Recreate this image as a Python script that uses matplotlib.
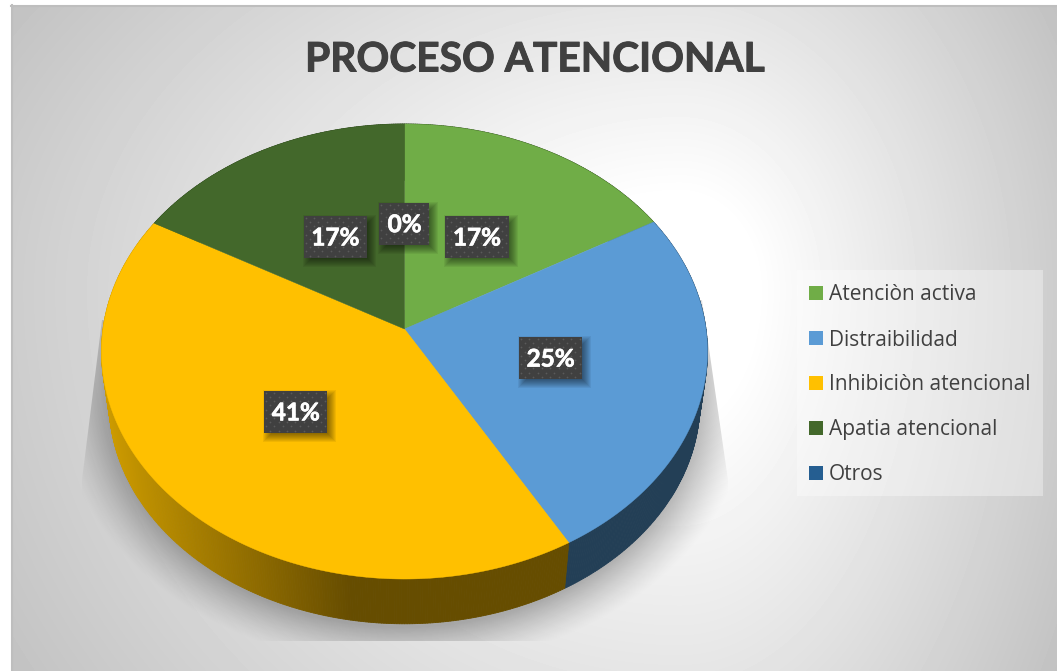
"""Pie chart of the attention process survey, drawn as a tilted disc."""

import matplotlib

matplotlib.use("Agg")
import matplotlib.patheffects as pe
import matplotlib.pyplot as plt
import numpy as np
from matplotlib.collections import PolyCollection
from matplotlib.patches import Polygon, Rectangle

TITLE = "PROCESO ATENCIONAL"
CATEGORIES = ["Atenciòn activa", "Distraibilidad", "Inhibiciòn atencional", "Apatia atencional", "Otros"]
PERCENTS = [16.7, 25.0, 41.49, 16.81, 0.0]
COLORS = ["#70AD47", "#5B9BD5", "#FFC000", "#43682B", "#255E91"]

WIDTH, HEIGHT = 1057, 671
CX, CY = 404.5, 329.0
RX, RY, TILT = 301.5, 225.3, 0.0989
WALL_DROP, WALL_SCALE = 51.0, 0.975

# small pixel offsets for the data labels, same order as the categories
LABEL_NUDGE = [(0, 1.5), (-1.4, -0.7), (1.3, 0), (3.7, 1.2), (0, 2)]


def disc_xy(fraction, radius=1.0, drop=0.0, scale=1.0):
    """Project a point on the disc (clockwise from the top) to pixels."""
    theta = 2 * np.pi * np.asarray(fraction)
    u = radius * np.sin(theta)
    v = radius * np.cos(theta)
    w = 1 + TILT * v
    return CX + scale * RX * u / w, CY + drop - scale * RY * v / w


def background():
    yy, xx = np.mgrid[0:HEIGHT, 0:WIDTH] + 0.5
    dx = np.where(xx < 680, (xx - 680) / 680, (xx - 680) / 380)
    dy = np.where(yy < 290, (yy - 290) / 465, (yy - 290) / 635)
    t = np.hypot(dx, dy)
    return np.interp(t, [0, 0.2, 1.2, 1.5], [1.0, 1.0, 0.75, 0.72])


def draw_shadow(ax):
    yy, xx = np.mgrid[0:HEIGHT, 0:WIDTH] + 0.5
    rad = np.hypot((xx - CX) / 296, (yy - 395) / 232)
    dist = (rad - 1) * 260
    alpha = 0.27 * np.clip(1 - dist / 46, 0, 1) ** 1.3
    rgba = np.zeros((HEIGHT, WIDTH, 4))
    rgba[..., 3] = alpha
    im = ax.imshow(rgba, extent=(0, WIDTH, HEIGHT, 0), zorder=2, interpolation="bilinear")
    clip = Polygon(
        [(102, 320), (702, 300), (728, 480), (728, 641), (82, 641), (82, 480)],
        transform=ax.transData,
    )
    im.set_clip_path(clip)


def wall_color(color, x):
    # the yellow wall darkens towards the front, the others stay flat
    if color == "#FFC000":
        return (np.interp(x, [105, 350], [0.80, 0.40]), np.interp(x, [105, 350], [0.605, 0.30]), 0.0)
    if color == "#5B9BD5":
        return "#233F56"
    return "#28401A"


def draw_wall(ax):
    edges = np.cumsum([0] + PERCENTS) / 100
    quads, colors = [], []
    for start, stop, color in zip(edges[:-1], edges[1:], COLORS):
        steps = np.linspace(start, stop, max(int((stop - start) * 800), 2))
        for a, b in zip(steps[:-1], steps[1:]):
            top_x, top_y = disc_xy([a, b])
            low_x, low_y = disc_xy([b, a], drop=WALL_DROP, scale=WALL_SCALE)
            quads.append(np.column_stack([np.r_[top_x, low_x], np.r_[top_y, low_y]]))
            colors.append(wall_color(color, disc_xy((a + b) / 2)[0]))
    ax.add_collection(PolyCollection(quads, facecolors=colors, edgecolors=colors, linewidths=0.6, zorder=3))


def draw_top(ax):
    edges = np.cumsum([0] + PERCENTS) / 100
    for start, stop, color in zip(edges[:-1], edges[1:], COLORS):
        if stop <= start:
            continue
        x, y = disc_xy(np.linspace(start, stop, 300))
        ax.add_patch(
            Polygon(np.column_stack([np.r_[CX, x], np.r_[CY, y]]), facecolor=color, edgecolor=color, linewidth=0.3, zorder=4)
        )


def draw_label(ax, x, y, text):
    w = 50 if len(text) == 2 else 63.5
    h = 42
    left, top = x - w / 2, y - h / 2
    # soft drop shadow built from stacked translucent boxes
    for grow in np.linspace(5, -3, 9):
        ax.add_patch(
            Rectangle((left + 4 - grow, top + 4 - grow), w + 2 * grow, h + 2 * grow, facecolor="black", alpha=0.06, edgecolor="none", zorder=5)
        )
    ax.add_patch(Rectangle((left, top), w, h, facecolor="#404040", edgecolor="none", zorder=6))
    dots_x, dots_y = [], []
    for row, dy in enumerate(np.arange(top + 2, top + h, 4.2)):
        offset = 0 if row % 2 == 0 else 4.2
        for dx in np.arange(left + 2 + offset, left + w - 1, 8.4):
            dots_x.append(dx)
            dots_y.append(dy)
    ax.scatter(dots_x, dots_y, s=1.6, color="#5A5A5A", linewidths=0, zorder=7)
    label = ax.text(x, y + 1, text, color="white", fontsize=17.5, fontweight="bold", family="Lato", ha="center", va="center", zorder=8)
    label.set_path_effects([pe.withStroke(linewidth=0.5, foreground="white")])


def draw_legend(ax):
    ax.add_patch(Rectangle((797, 270), 246, 226, facecolor="white", alpha=0.35, edgecolor="none", zorder=3))
    for i, (name, color) in enumerate(zip(CATEGORIES, COLORS)):
        y = 293 + 45 * i
        ax.add_patch(Rectangle((809, y - 7), 14, 14, facecolor=color, edgecolor="none", zorder=4))
        ax.text(829, y + 2, name, color="#404040", fontsize=15, family="Open Sans", ha="left", va="center", zorder=4)


def main():
    fig = plt.figure(figsize=(WIDTH / 100, HEIGHT / 100), dpi=100, facecolor="white")
    ax = fig.add_axes([0, 0, 1, 1])

    bg = ax.imshow(background(), cmap="gray", vmin=0, vmax=1, extent=(0, WIDTH, HEIGHT, 0), zorder=1)
    bg.set_clip_path(Rectangle((11, 5), WIDTH, HEIGHT, transform=ax.transData))
    ax.plot([11.5, 11.5], [5, HEIGHT], color="#BEBEBE", linewidth=1.5, zorder=2)
    ax.plot([11, WIDTH], [5.5, 5.5], color="#BEBEBE", linewidth=1.5, zorder=2)

    draw_shadow(ax)
    draw_wall(ax)
    draw_top(ax)

    edges = np.cumsum([0] + PERCENTS) / 100
    for pct, start, stop, nudge in zip(PERCENTS, edges[:-1], edges[1:], LABEL_NUDGE):
        x, y = disc_xy((start + stop) / 2, radius=0.5)
        draw_label(ax, float(x) + nudge[0], float(y) + nudge[1], f"{pct:.0f}%")

    draw_legend(ax)
    title = ax.text(535, 60, TITLE, color="#404040", fontsize=29.3, fontweight="bold", family="Lato", ha="center", va="center", zorder=4)
    title.set_path_effects([pe.withStroke(linewidth=0.7, foreground="#404040")])

    ax.set_xlim(0, WIDTH)
    ax.set_ylim(HEIGHT, 0)
    ax.set_axis_off()
    fig.savefig("out.png", dpi=100)


if __name__ == "__main__":
    main()
